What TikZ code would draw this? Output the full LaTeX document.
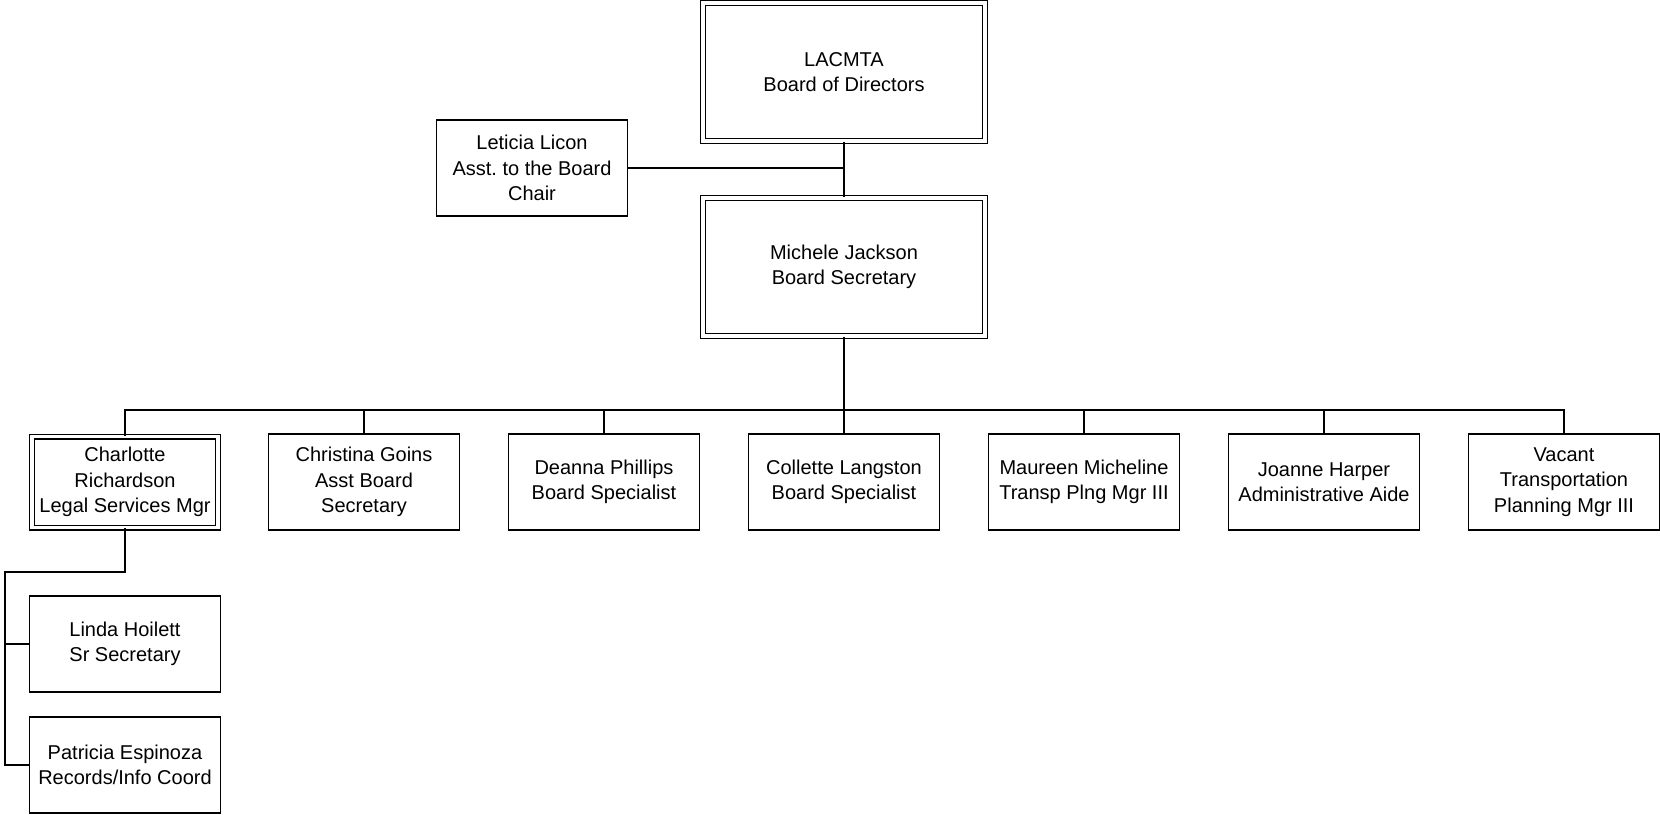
\documentclass[tikz,border=0pt]{standalone}
\usepackage{fontspec}
\setmainfont{Liberation Sans}
\tikzset{
  box/.style={draw, line width=0.6pt, align=center, minimum width=95.5pt, minimum height=48pt, inner sep=1pt,
    font=\fontsize{10}{12.7}\selectfont},
  dbox/.style={box, double, double distance=1.8pt, minimum width=93pt, minimum height=45.5pt},
  topbox/.style={dbox, minimum width=141pt, minimum height=69pt},
  link/.style={line width=0.6pt},
  trunk/.style={line width=1.1pt}
}

\begin{document}
\begin{tikzpicture}[x=0.5pt, y=-0.5pt]
\useasboundingbox (0,0) rectangle (1660,814);
%% board and secretary
  \node[topbox] (bd) at (844,72) {LACMTA\\Board of Directors};
  \node[topbox] (mj) at (844,267) {Michele Jackson\\Board Secretary};
  \node[box] (ll) at (532,168) {Leticia Licon\\Asst.\ to the Board\\Chair};
  \draw[link] (bd.south) -- (mj.north);
  \draw[link] (ll.east) -- (ll.east -| bd.south);
%% staff row
  \coordinate (bus) at (844,410);
  \node[dbox] (cr) at (125,482) {Charlotte\\Richardson\\Legal Services Mgr};
  \node[box] (cg) at (364,482) {Christina Goins\\Asst Board\\Secretary};
  \node[box] (dp) at (604,482) {Deanna Phillips\\Board Specialist};
  \node[box] (cl) at (844,482) {Collette Langston\\Board Specialist};
  \node[box] (mm) at (1084,482) {Maureen Micheline\\Transp Plng Mgr III};
  \node[box] (jh) at (1324,482) {Joanne Harper\\Administrative Aide};
  \node[box] (va) at (1564,482) {Vacant\\Transportation\\Planning Mgr III};
  \draw[trunk] (mj.south) -- (bus);
  \foreach \n in {cr,cg,dp,cl,mm,jh,va}
    \draw[link] (bus) -| (\n.north);
%% legal services
  \coordinate (side) at (5,572);
  \node[box] (lh) at (125,644) {Linda Hoilett\\Sr Secretary};
  \node[box] (pe) at (125,765) {Patricia Espinoza\\Records/Info Coord};
  \draw[trunk] (cr.south) |- (side) |- (lh.west);
  \draw[link] (side) |- (pe.west);
\end{tikzpicture}
\end{document}
